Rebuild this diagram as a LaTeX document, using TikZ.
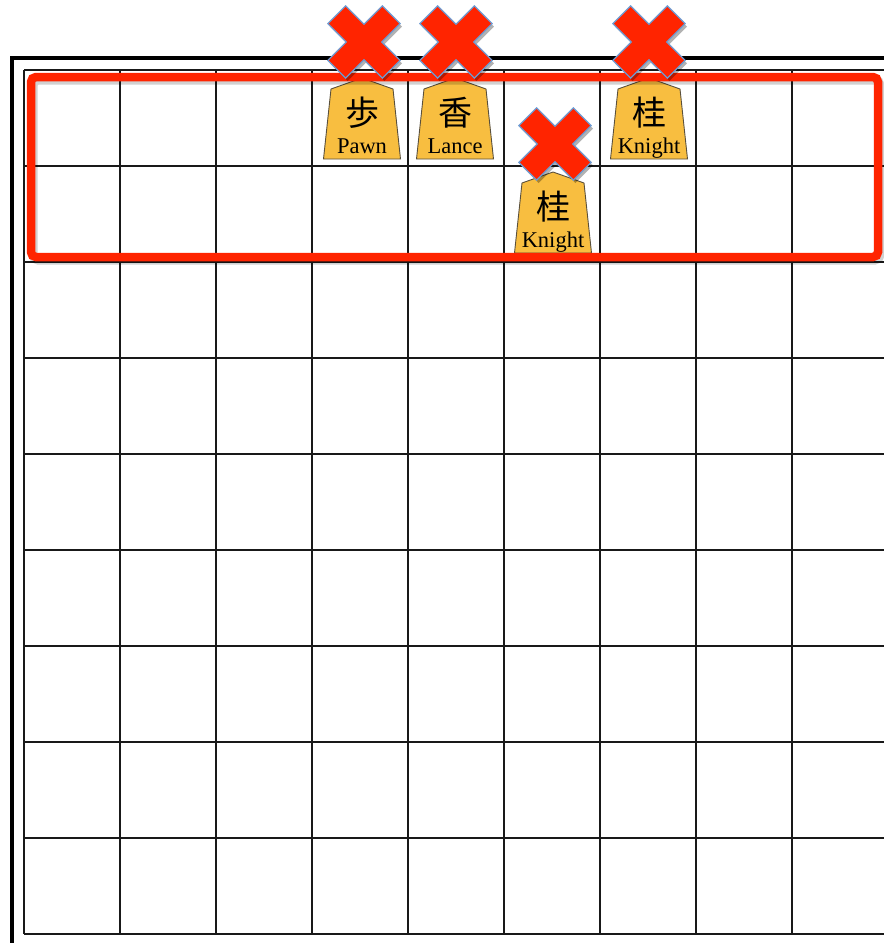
\documentclass[tikz,border=0pt]{standalone}
\usepackage{fontspec}
\setmainfont{Liberation Serif}
\newfontfamily\jpfont{Noto Sans CJK JP}
\usetikzlibrary{shadows}
\definecolor{xred}{RGB}{255,36,0}
\definecolor{xblue}{RGB}{110,155,210}
\definecolor{piecefill}{RGB}{248,190,64}
\definecolor{pieceedge}{RGB}{90,80,60}
\tikzset{
  frameline/.style={line width=3.2pt, black},
  gridline/.style={line width=2.8pt, black!90},
  piecebody/.style={fill=piecefill, draw=pieceedge, line width=0.9pt, line join=miter},
  kanjitext/.style={font=\jpfont\fontsize{34}{34}\selectfont, inner sep=0pt},
  piecelabel/.style={font=\fontsize{22.5}{22.5}\selectfont, inner sep=0pt, anchor=base},
  redbox/.style={draw=xred, line width=8.5pt, rounded corners=5pt},
  redshadow/.style={draw=black, opacity=0.18, line width=9pt, rounded corners=5pt},
  xmarkstyle/.style={fill=xred, draw=xblue, line width=1.2pt, line join=miter,
    drop shadow={shadow xshift=2pt, shadow yshift=-3pt, opacity=0.3, fill=black}},
}
\newcommand\shogipiece[5]{%
  \draw[piecebody] (#2-38.5,#3+81) -- (#2-31,#3+11) -- (#2,#3) -- (#2+31,#3+11) -- (#2+38.5,#3+81) -- cycle;
  \node[kanjitext] (#1k) at (#2,#3+35) {#4};
  \node[piecelabel] (#1l) at (#2,#3+75) {#5};
}
\newcommand\crossmark[2]{%
  \path[xmarkstyle, shift={(#1,#2)}, rotate=45]
    (-12.5,38.5) -- (12.5,38.5) -- (12.5,12.5) -- (38.5,12.5) -- (38.5,-12.5) -- (12.5,-12.5)
    -- (12.5,-38.5) -- (-12.5,-38.5) -- (-12.5,-12.5) -- (-38.5,-12.5) -- (-38.5,12.5) -- (-12.5,12.5) -- cycle;
}
\begin{document}
\begin{tikzpicture}[x=1pt,y=-1pt]
\useasboundingbox (0,0) rectangle (884,943);
\clip (0,0) rectangle (884,943);
\fill[white] (0,0) rectangle (884,943);
% outer frame
\draw[frameline] (900,58) -- (12,58) -- (12,960);
% grid
\foreach \i in {0,...,9} \draw[gridline] (24+96*\i,70) -- (24+96*\i,934);
\foreach \j in {0,...,9} \draw[gridline] (24,70+96*\j) -- (900,70+96*\j);
% pieces
\shogipiece{pawn}{362}{78}{歩}{Pawn}
\shogipiece{lance}{455}{78}{香}{Lance}
\shogipiece{knighta}{649}{78}{桂}{Knight}
\shogipiece{knightb}{553}{172}{桂}{Knight}
% red box
\draw[redshadow] (33,80) rectangle (880,260);
\draw[redbox] (31,77) rectangle (878,257);
% crosses
\crossmark{364}{42}
\crossmark{456}{42}
\crossmark{649}{42}
\crossmark{555}{144}
\end{tikzpicture}
\end{document}
